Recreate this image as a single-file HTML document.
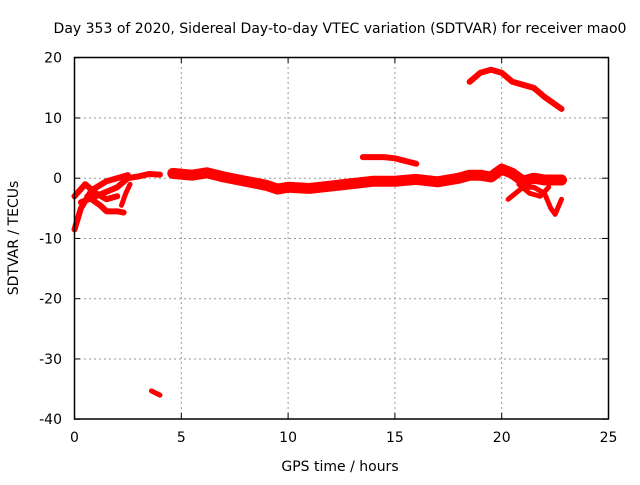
<!DOCTYPE html>
<html><head><meta charset="utf-8"><style>
body{margin:0;background:#fff}
svg text{font-family:"DejaVu Sans","Liberation Sans",sans-serif;font-size:14px;fill:#000}
</style></head><body>
<svg width="640" height="480" xmlns="http://www.w3.org/2000/svg">
<rect width="640" height="480" fill="#fff"/>
<g id="grid"></g>
<g id="series"></g>
<rect x="74.5" y="57.5" width="534" height="361.5" fill="none" stroke="#000" stroke-width="1.5"/>
<g id="ticks"></g>
<text x="340" y="33" text-anchor="middle">Day 353 of 2020, Sidereal Day-to-day VTEC variation (SDTVAR) for receiver mao0</text>
<text x="340" y="471" text-anchor="middle">GPS time / hours</text>
<text x="18" y="238" text-anchor="middle" transform="rotate(-90 18 238)">SDTVAR / TECUs</text>
</svg>
<script>
const xTicks=[0,5,10,15,20,25];
const yTicks=[20,10,0,-10,-20,-30,-40];
const segMain=[[4.6,0.8],[5.5,0.5],[6.2,0.9],[7,0.2],[8,-0.5],[9,-1.2],[9.5,-1.8],[10,-1.5],[11,-1.7],[12,-1.3],[13,-0.9],[14,-0.5],[15,-0.5],[16,-0.2],[17,-0.6],[18,0],[18.5,0.5],[19,0.5],[19.5,0.2],[20,1.5],[20.5,0.8],[21,-0.5],[21.5,0],[22,-0.3],[22.8,-0.3]];
const segEarly1=[[0,-8.5],[0.3,-5],[0.8,-2],[1.5,-0.5],[2.5,0.5]];
const segEarly2=[[0,-3],[0.5,-1],[1,-2.5],[1.5,-3.5],[2,-3]];
const segEarly3=[[0.3,-4],[1,-3],[2,-1.5],[2.5,0],[3,0.3],[3.5,0.7],[4,0.6]];
const segEarly4=[[0.6,-3],[1.2,-4.5],[1.5,-5.5],[2,-5.5],[2.3,-5.7]];
const segEarly5=[[2.2,-4.5],[2.4,-2.5],[2.6,-1]];
const segLow=[[3.6,-35.3],[4,-36]];
const segUpper=[[13.5,3.5],[14.5,3.5],[15,3.3],[16,2.4]];
const segTop=[[18.5,16],[19,17.5],[19.5,18],[20,17.5],[20.5,16],[21,15.5],[21.5,15],[22,13.5],[22.8,11.5]];
const segDip=[[20.3,-3.5],[21,-1.5],[21.5,-1.5],[22,-2.5],[22.3,-5],[22.5,-6],[22.8,-3.5]];
const segLoop=[[20.8,-1],[21.3,-2.5],[21.8,-3],[22.2,-1.5]];
const X=h=>74.5+h*21.36, Y=v=>178.2-v*6.025;
const NS='http://www.w3.org/2000/svg';
const g=document.getElementById('grid'),t=document.getElementById('ticks'),s=document.getElementById('series');
function mk(tag,at,p){const e=document.createElementNS(NS,tag);for(const k in at)e.setAttribute(k,at[k]);p.appendChild(e);return e;}
xTicks.forEach(v=>{const x=X(v);
 if(v>0&&v<25){const l=mk('line',{x1:x,x2:x,y1:57,y2:419,stroke:'#999','stroke-dasharray':'2,3'},g);
 
 }
 mk('line',{x1:x,x2:x,y1:419,y2:413,stroke:'#000'},t);mk('line',{x1:x,x2:x,y1:57,y2:63,stroke:'#000'},t);
 const tx=mk('text',{x:x,y:442,'text-anchor':'middle'},t);tx.textContent=v;
 
 });
yTicks.forEach(v=>{const y=Y(v);
 if(v<20&&v>-40){const l=mk('line',{x1:74,x2:608,y1:y,y2:y,stroke:'#999','stroke-dasharray':'2,3'},g);
 
 }
 mk('line',{x1:74,x2:80,y1:y,y2:y,stroke:'#000'},t);mk('line',{x1:602,x2:608,y1:y,y2:y,stroke:'#000'},t);
 const tx=mk('text',{x:62,y:y+5,'text-anchor':'end'},t);tx.textContent=v;
 
 });
[[segMain,11],[segEarly1,6],[segEarly2,6],[segEarly3,6],[segEarly4,6],[segEarly5,5],[segLow,5],[segUpper,6],[segTop,6],[segDip,5],[segLoop,5]].forEach(([seg,w])=>{
 const p=mk('polyline',{points:seg.map(d=>X(d[0])+','+Y(d[1])).join(' '),fill:'none',stroke:'#f00','stroke-width':w,'stroke-linejoin':'round','stroke-linecap':'round'},s);
 
 });
</script>
</body></html>
